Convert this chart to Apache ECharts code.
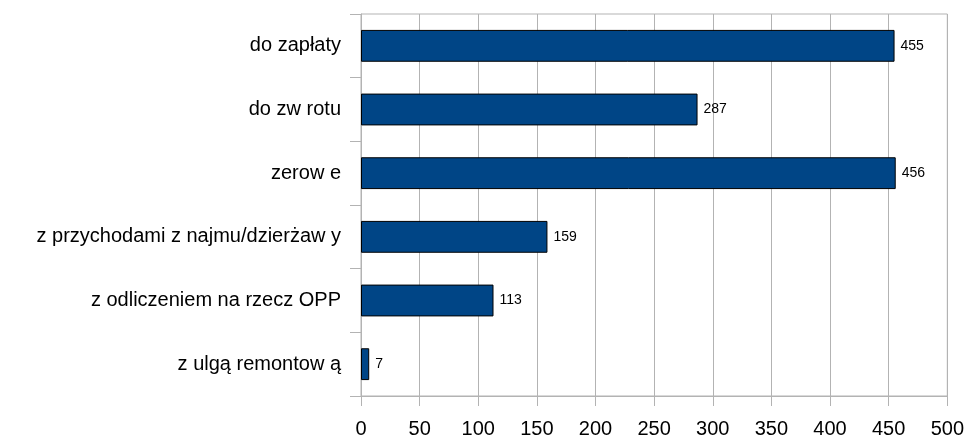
<!DOCTYPE html>
<html>
<head>
<meta charset="utf-8">
<script src="https://cdn.jsdelivr.net/npm/echarts@6/dist/echarts.min.js"></script>
<style>
  html, body { margin: 0; padding: 0; background: #fff; }
  #chart { width: 967px; height: 439px; }
</style>
</head>
<body>
<div id="chart"></div>
<script>
  // kategorie (od góry)
  const categories = [
    'do zapłaty',
    'do zw rotu',
    'zerow e',
    'z przychodami z najmu/dzierżaw y',
    'z odliczeniem na rzecz OPP',
    'z ulgą remontow ą'
  ]
  const values = [455, 287, 456, 159, 113, 7]
  const xMin = 0
  const xMax = 500
  const xStep = 50

  const gridColor = '#b3b3b3'
  const chart = echarts.init(document.getElementById('chart'))

  chart.setOption({
    animation: false,
    textStyle: {
      fontFamily: 'Liberation Sans'
    },
    grid: {
      left: 361,
      top: 14,
      width: 587,
      height: 382,
      show: true,
      borderColor: gridColor,
      borderWidth: 1
    },
    xAxis: {
      type: 'value',
      min: xMin,
      max: xMax,
      interval: xStep,
      axisLine: { show: true, lineStyle: { color: gridColor } },
      axisTick: { show: true, length: 10, lineStyle: { color: gridColor } },
      splitLine: { show: true, lineStyle: { color: gridColor } },
      axisLabel: {
        color: '#000',
        fontSize: 20,
        margin: 23
      }
    },
    yAxis: {
      type: 'category',
      inverse: true,
      data: categories,
      axisLine: { show: true, lineStyle: { color: gridColor } },
      axisTick: { show: true, length: 11, lineStyle: { color: gridColor } },
      splitLine: { show: false },
      axisLabel: {
        color: '#000',
        fontSize: 20,
        margin: 20
      }
    },
    series: [
      {
        type: 'bar',
        data: values,
        barCategoryGap: '50%',
        itemStyle: {
          color: '#004586',
          borderColor: '#000',
          borderWidth: 1
        },
        label: {
          show: true,
          position: 'right',
          distance: 6,
          color: '#000',
          fontSize: 14
        }
      }
    ]
  })
</script>
</body>
</html>
